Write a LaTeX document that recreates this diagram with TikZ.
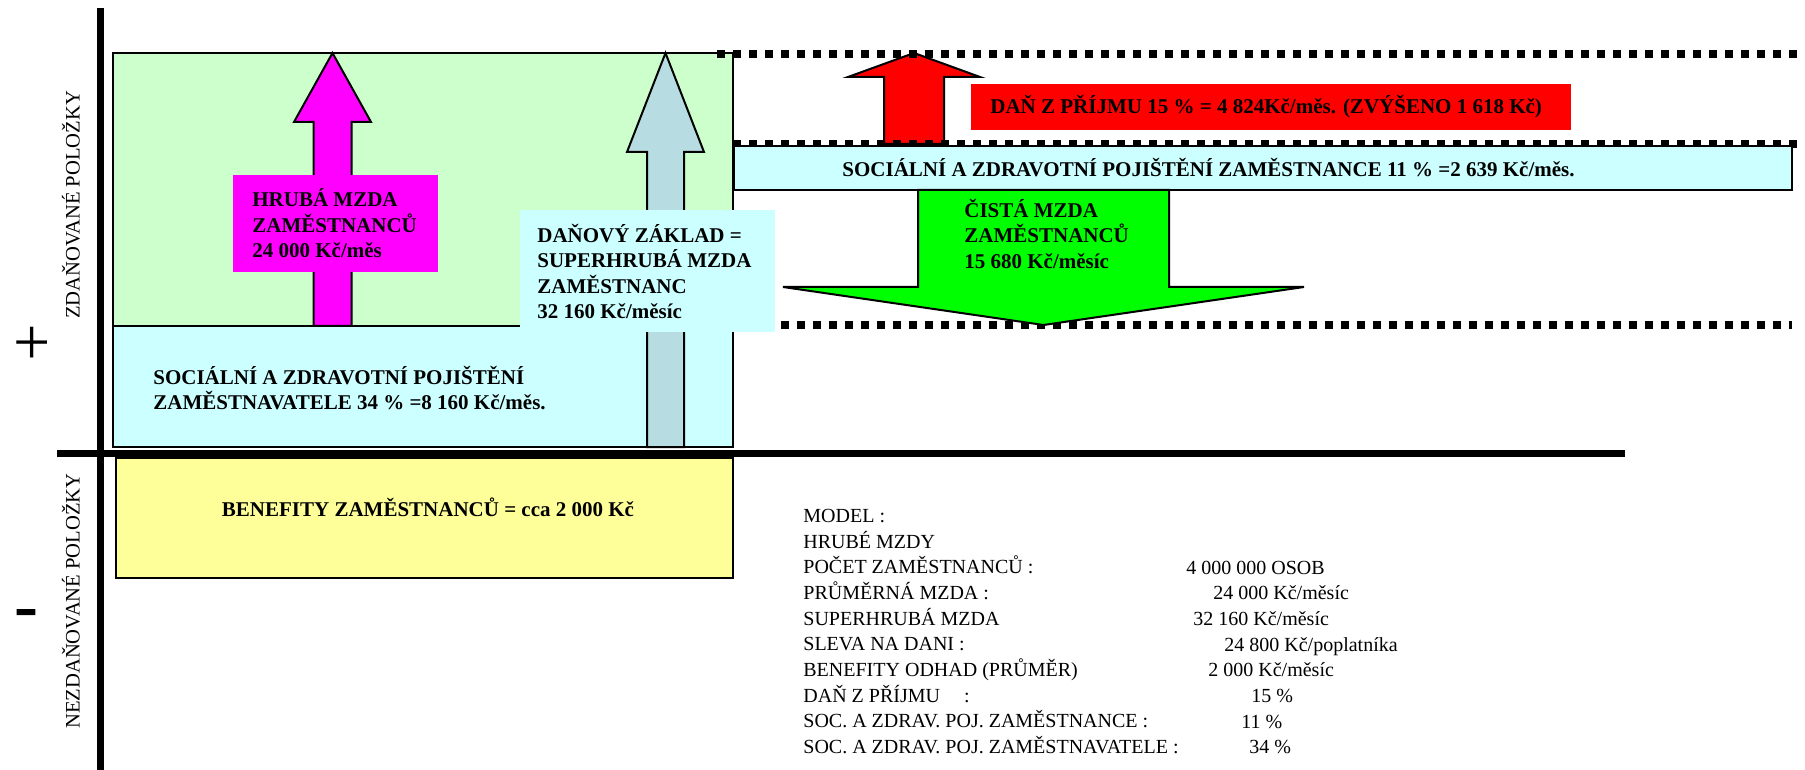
\documentclass[tikz,border=0pt]{standalone}
\usepackage{fontspec}
\setmainfont{Liberation Serif}
\usepackage{tikz}
\usetikzlibrary{fit, positioning}
\usepackage{xcolor}
\definecolor{taxGreen}{RGB}{204,255,204}
\definecolor{insCyan}{RGB}{204,255,255}
\definecolor{benYellow}{RGB}{255,255,153}
\definecolor{baseBlue}{RGB}{183,221,227}
\definecolor{wageMagenta}{RGB}{255,0,255}
\definecolor{taxRed}{RGB}{255,0,0}
\definecolor{netGreen}{RGB}{0,255,0}
\tikzset{
    % Fonts
    lblFont/.style={font=\fontsize{10.5}{12.75}\selectfont\bfseries},
    listFont/.style={font=\fontsize{10}{12.83}\selectfont},
    axisFont/.style={font=\fontsize{10.3}{12}\selectfont},
    % Boxes
    box/.style={draw=black, line width=1.2pt, inner sep=0pt},
    plate/.style={inner sep=0pt},
    tag/.style={inner sep=0pt, align=left, anchor=west, lblFont},
    % Lines & arrows
    bigArrow/.style={draw=black, line width=1pt, line join=miter},
    axis/.style={line width=3.5pt},
    level/.style={line width=3.6pt, dash pattern=on 4pt off 4pt}
}

\begin{document}
\begin{tikzpicture}[x=0.5pt, y=-0.5pt]
\useasboundingbox (0,0) rectangle (1805,770);

% zones
\node[box, fill=taxGreen, fit={(113,53)(733,326)}] (taxed) {};
\node[box, fill=insCyan, fit={(113,326)(733,447)}] (employer) {};
\node[tag] (employerLbl) at (153,388) {SOCIÁLNÍ A ZDRAVOTNÍ POJIŠTĚNÍ\\ZAMĚSTNAVATELE 34 \% =8 160 Kč/měs.};
\node[box, fill=benYellow, fit={(116,458)(733,578)}] (benefits) {};
\node[tag, anchor=center] (benefitsLbl) at (428,507) {BENEFITY ZAMĚSTNANCŮ = cca 2 000 Kč};

% axes
\draw[axis] (100,8) -- (100,770);
\draw[axis] (57,453) -- (1625,453);
\node[axisFont, rotate=90] (taxedAxis) at (71,205) {ZDAŇOVANÉ POLOŽKY};
\node[axisFont, rotate=90] (untaxedAxis) at (71,601) {NEZDAŇOVANÉ POLOŽKY};
\node[font=\fontsize{33}{33}\selectfont] (plus) at (32,346) {+};
\node[font=\fontsize{36}{36}\selectfont\bfseries] (minus) at (26,619) {-};

% gross wage
\draw[bigArrow, fill=wageMagenta] (313.5,326) -- (313.5,122) -- (294,122) -- (332.5,53)
    -- (371,122) -- (351.5,122) -- (351.5,326) -- cycle;
\node[plate, fill=wageMagenta, fit={(233,175)(438,272)}] (gross) {};
\node[tag] (grossLbl) at (252,223.5) {HRUBÁ MZDA\\ZAMĚSTNANCŮ\\24 000 Kč/měs};

% tax base
\draw[bigArrow, fill=baseBlue] (647,447) -- (647,152) -- (627,152) -- (665.5,53)
    -- (704,152) -- (684,152) -- (684,447) -- cycle;
\node[plate, fill=insCyan, fit={(520,210)(775,332)}] (base) {};
\node[tag] (baseLbl) at (537,271.5) {DAŇOVÝ ZÁKLAD =\\SUPERHRUBÁ MZDA\\ZAMĚSTNANC\\32 160 Kč/měsíc};

% income tax
\draw[bigArrow, fill=taxRed] (884,144) -- (884,77) -- (848,77) -- (914,53)
    -- (980,77) -- (944,77) -- (944,144) -- cycle;
\node[plate, fill=taxRed, fit={(971,84)(1571,130)}] (tax) {};
\node[tag] (taxLbl) at (990,107) {DAŇ Z PŘÍJMU 15 \% = 4 824Kč/měs. (ZVÝŠENO 1 618 Kč)};

% level lines
\draw[level] (717,54) -- (1805,54);
\draw[level] (733,144) -- (1805,144);
\draw[level] (781,325) -- (1792,325);

% employee insurance
\node[box, fill=insCyan, fit={(734,146)(1792,190)}] (employee) {};
\node[tag] (employeeLbl) at (842,168) {SOCIÁLNÍ A ZDRAVOTNÍ POJIŠTĚNÍ ZAMĚSTNANCE 11 \% =2 639 Kč/měs.};

% net wage
\draw[bigArrow, fill=netGreen] (918,190) -- (918,287) -- (783,287) -- (1043.5,325)
    -- (1304,287) -- (1169,287) -- (1169,190) -- cycle;
\node[tag] (netLbl) at (964,233.5) {ČISTÁ MZDA\\ZAMĚSTNANCŮ\\15 680 Kč/měsíc};

% model
\node[listFont, anchor=west, align=left, inner sep=0pt] (model) at (803,631.5)
    {MODEL :\\HRUBÉ MZDY\\POČET ZAMĚSTNANCŮ :\\PRŮMĚRNÁ MZDA :\\SUPERHRUBÁ MZDA\\SLEVA NA DANI :\\BENEFITY ODHAD (PRŮMĚR)\\DAŇ Z PŘÍJMU\hspace{1.2em}:\\SOC. A ZDRAV. POJ. ZAMĚSTNANCE :\\SOC. A ZDRAV. POJ. ZAMĚSTNAVATELE :};
\node[listFont, anchor=base west, inner sep=0pt] (persons) at (1186,574) {4 000 000 OSOB};
\node[listFont, anchor=base west, inner sep=0pt] (avgWage) at (1213,599.6) {24 000 Kč/měsíc};
\node[listFont, anchor=base west, inner sep=0pt] (superWage) at (1193,625.3) {32 160 Kč/měsíc};
\node[listFont, anchor=base west, inner sep=0pt] (discount) at (1224,651) {24 800 Kč/poplatníka};
\node[listFont, anchor=base west, inner sep=0pt] (benefitVal) at (1208,676.6) {2 000 Kč/měsíc};
\node[listFont, anchor=base west, inner sep=0pt] (taxRate) at (1251,702.3) {15 \%};
\node[listFont, anchor=base west, inner sep=0pt] (eeRate) at (1241,728) {11 \%};
\node[listFont, anchor=base west, inner sep=0pt] (erRate) at (1249,753.6) {34 \%};

\end{tikzpicture}
\end{document}
